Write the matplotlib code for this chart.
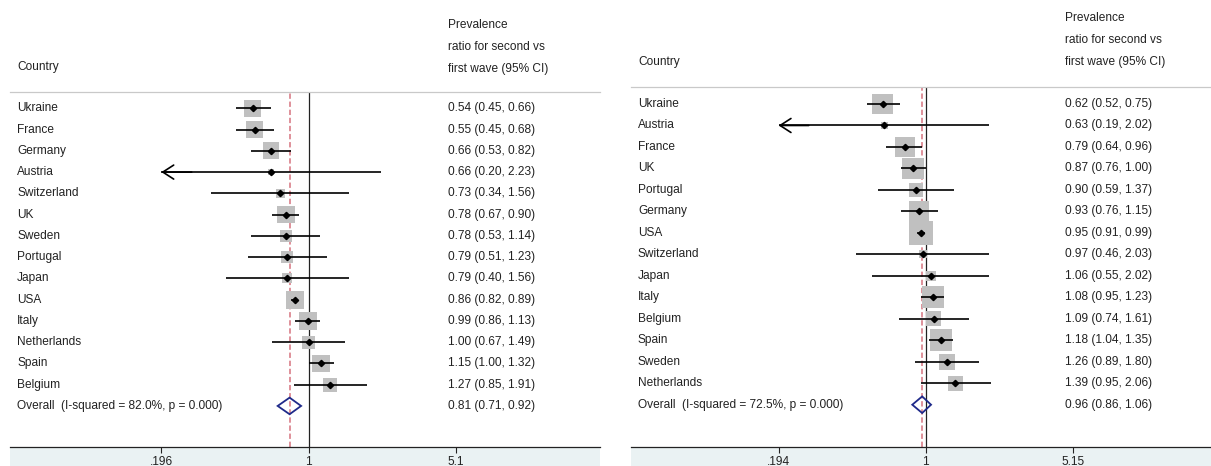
import matplotlib
matplotlib.use("Agg")
import matplotlib.pyplot as plt
from matplotlib.patches import Polygon, Rectangle
from matplotlib.ticker import NullLocator, FixedLocator, FixedFormatter
from matplotlib.transforms import blended_transform_factory

plt.rcParams['font.family'] = ['Liberation Sans', 'DejaVu Sans']

# ---- first comparison ----
countries_a = ["Ukraine", "France", "Germany", "Austria", "Switzerland", "UK", "Sweden",
               "Portugal", "Japan", "USA", "Italy", "Netherlands", "Spain", "Belgium"]
ratio_a = [0.54, 0.55, 0.66, 0.66, 0.73, 0.78, 0.78, 0.79, 0.79, 0.86, 0.99, 1.00, 1.15, 1.27]
lower_a = [0.45, 0.45, 0.53, 0.20, 0.34, 0.67, 0.53, 0.51, 0.40, 0.82, 0.86, 0.67, 1.00, 0.85]
upper_a = [0.66, 0.68, 0.82, 2.23, 1.56, 0.90, 1.14, 1.23, 1.56, 0.89, 1.13, 1.49, 1.32, 1.91]
weight_a = [9.7, 9.7, 9.3, 1.1, 2.5, 10.5, 4.8, 4.8, 3.3, 10.8, 10.8, 5.6, 10.5, 6.6]
overall_a = [0.81, 0.71, 0.92]
isq_a = 82.0
pval_a = 0.000
ticks_a = [0.196, 1, 5.1]
ticklabels_a = [".196", "1", "5.1"]

# ---- second comparison ----
countries_b = ["Ukraine", "Austria", "France", "UK", "Portugal", "Germany", "USA",
               "Switzerland", "Japan", "Italy", "Belgium", "Spain", "Sweden", "Netherlands"]
ratio_b = [0.62, 0.63, 0.79, 0.87, 0.90, 0.93, 0.95, 0.97, 1.06, 1.08, 1.09, 1.18, 1.26, 1.39]
lower_b = [0.52, 0.19, 0.64, 0.76, 0.59, 0.76, 0.91, 0.46, 0.55, 0.95, 0.74, 1.04, 0.89, 0.95]
upper_b = [0.75, 2.02, 0.96, 1.00, 1.37, 1.15, 0.99, 2.03, 2.02, 1.23, 1.61, 1.35, 1.80, 2.06]
weight_b = [10.1, 1.1, 9.2, 10.8, 4.5, 9.2, 13.2, 1.5, 2.3, 11.1, 5.1, 11.1, 5.9, 5.1]
overall_b = [0.96, 0.86, 1.06]
isq_b = 72.5
pval_b = 0.000
ticks_b = [0.194, 1, 5.15]
ticklabels_b = [".194", "1", "5.15"]

header_lines = ["Prevalence", "ratio for second vs", "first wave (95% CI)"]

W, H = 1211, 466
DPI = 100
FS = 8.6
BOX_GREY = "#c0c0c0"
RED = "#d6737f"
NAVY = "#1f2a8a"
BAND = "#eaf2f3"
INK = "#222222"

fig = plt.figure(figsize=(W / DPI, H / DPI), dpi=DPI)
fig.patch.set_facecolor("white")


def forest(countries, ratio, lower, upper, weight, overall, isq, pval, ticks, ticklabels, lay):
    x0, x1, top, bot = lay["x0"], lay["x1"], lay["top"], lay["bot"]
    # light band under the axis (drawn beneath the axes and their tick labels)
    fig.patches.append(Rectangle((x0 / W, 0), (x1 - x0) / W, (H - bot) / H,
                                 transform=fig.transFigure, facecolor=BAND,
                                 edgecolor="none", zorder=-5))
    ax = fig.add_axes([x0 / W, (H - bot) / H, (x1 - x0) / W, (bot - top) / H])
    ax.set_xscale("log")
    ax.set_xlim(*lay["xlim"])
    row0, step = lay["row0"], lay["step"]
    ax.set_ylim((bot - row0) / step, (top - row0) / step)
    ax.set_facecolor("white")

    for s in ("left", "right"):
        ax.spines[s].set_visible(False)
    ax.spines["top"].set_color("#c9c9c9")
    ax.spines["top"].set_linewidth(0.9)
    ax.spines["bottom"].set_color(INK)
    ax.spines["bottom"].set_linewidth(0.9)
    ax.yaxis.set_major_locator(NullLocator())
    ax.xaxis.set_major_locator(FixedLocator(ticks))
    ax.xaxis.set_major_formatter(FixedFormatter(ticklabels))
    ax.xaxis.set_minor_locator(NullLocator())
    ax.tick_params(axis="x", direction="out", length=4, width=0.8, pad=2.2,
                   labelsize=FS, colors=INK)

    # reference lines
    ax.axvline(1, color=INK, lw=0.9, zorder=1)
    ax.axvline(overall[0], color=RED, lw=1.1, ls=(0, (3.5, 1.8)), zorder=1)

    pts_per_px = 72.0 / DPI
    lo_bound = ticks[0]
    for i, (r, lo, hi, w) in enumerate(zip(ratio, lower, upper, weight)):
        side = lay["box"] * w ** 0.5
        ax.scatter([r], [i], marker="s", s=(side * pts_per_px) ** 2,
                   color=BOX_GREY, edgecolors="none", zorder=2)
        # a lower limit below the first tick (allowing for 2-decimal rounding)
        # is truncated there and marked with an arrow
        if lo - 0.005 < lo_bound:
            ax.hlines(i, lo_bound, hi, color="black", lw=1.2, zorder=3)
            ax.annotate("", xy=(lo_bound, i), xytext=(lo_bound * 1.4, i),
                        arrowprops=dict(arrowstyle="->,head_length=0.65,head_width=0.42",
                                        lw=1.2, color="black", mutation_scale=12,
                                        shrinkA=0, shrinkB=0), zorder=3)
        else:
            ax.hlines(i, lo, hi, color="black", lw=1.2, zorder=3)
        ax.plot([r], [i], marker="D", ms=3.2, color="black", mec="black", zorder=4)

    # pooled estimate diamond
    n = len(countries)
    est, olo, ohi = overall
    half = 8.3 / step
    diamond = Polygon([(olo, n), (est, n - half), (ohi, n), (est, n + half)],
                      closed=True, facecolor="none", edgecolor=NAVY, lw=1.3, zorder=4)
    ax.add_patch(diamond)

    tr_name = blended_transform_factory(fig.transFigure, ax.transData)
    labels = list(countries) + [f"Overall  (I-squared = {isq:.1f}%, p = {pval:.3f})"]
    values = [f"{r:.2f} ({lo:.2f}, {hi:.2f})" for r, lo, hi in zip(ratio, lower, upper)]
    values.append(f"{est:.2f} ({olo:.2f}, {ohi:.2f})")
    for i, (lab, val) in enumerate(zip(labels, values)):
        ax.text(lay["name_x"] / W, i, lab, transform=tr_name, ha="left", va="center",
                fontsize=FS, color=INK)
        ax.text(lay["ci_x"] / W, i, val, transform=tr_name, ha="left", va="center",
                fontsize=FS, color=INK)

    fig.text(lay["name_x"] / W, 1 - lay["country_y"] / H, "Country", ha="left",
             va="center", fontsize=FS, color=INK)
    for txt, y in zip(header_lines, lay["head_y"]):
        fig.text(lay["ci_x"] / W, 1 - y / H, txt, ha="left", va="center",
                 fontsize=FS, color=INK)
    return ax


layout_a = dict(x0=9.6, x1=600, top=92, bot=447, xlim=(0.0366, 25.1),
                row0=108.3, step=21.26, name_x=17, ci_x=448,
                head_y=(25, 47, 69), country_y=67, box=5.48)
layout_b = dict(x0=631, x1=1211, top=87, bot=447, xlim=(0.0375, 23.95),
                row0=104.0, step=21.48, name_x=638, ci_x=1065,
                head_y=(18, 40, 62), country_y=62, box=6.6)

forest(countries_a, ratio_a, lower_a, upper_a, weight_a, overall_a, isq_a, pval_a,
       ticks_a, ticklabels_a, layout_a)
forest(countries_b, ratio_b, lower_b, upper_b, weight_b, overall_b, isq_b, pval_b,
       ticks_b, ticklabels_b, layout_b)

fig.savefig("out.png", dpi=DPI)
